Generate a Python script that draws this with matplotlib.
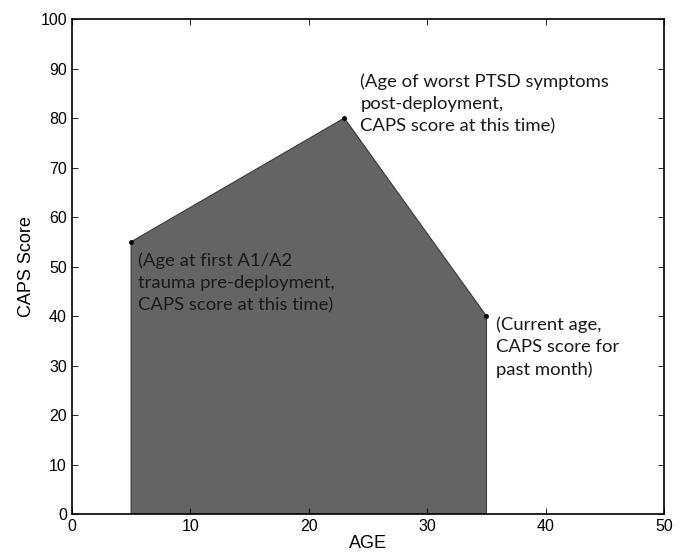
import numpy as np
import matplotlib.pyplot as plt

# ---------------------------------------------------------------------------
# Data
# ---------------------------------------------------------------------------
age = [5, 5, 23, 35, 35]          # polygon outline (x)
caps = [0, 55, 80, 40, 0]         # polygon outline (y)

pt_age = [5, 23, 35]              # marked points
pt_caps = [55, 80, 40]

labels = [
    "(Age at first A1/A2\ntrauma pre-deployment,\nCAPS score at this time)",
    "(Age of worst PTSD symptoms\npost-deployment,\nCAPS score at this time)",
    "(Current age,\nCAPS score for\npast month)",
]
offsets = [(7, -41), (16, 14), (10, -31)]   # pixels, point -> text centre

xticks = np.arange(0, 51, 10)
yticks = np.arange(0, 101, 10)

# ---------------------------------------------------------------------------
# Plot
# ---------------------------------------------------------------------------
plt.rcParams["font.family"] = ["Liberation Sans", "DejaVu Sans"]

fig = plt.figure(figsize=(6.84, 5.6), dpi=100)
ax = fig.add_axes([0.105, 0.082, 0.866, 0.884])

ax.fill(age, caps, facecolor="#646464", edgecolor="#3a3a3a", linewidth=0.8)
ax.plot(pt_age, pt_caps, "o", color="black", markersize=2.5)

for x, y, s, off in zip(pt_age, pt_caps, labels, offsets):
    ax.annotate(s, (x, y), xytext=off, textcoords="offset pixels",
                ha="left", va="center", fontsize=13.3, family="Lato",
                color="#1a1a1a", linespacing=1.48)

ax.set_xlim(0, 50)
ax.set_ylim(0, 100)
ax.set_xticks(xticks)
ax.set_yticks(yticks)
ax.tick_params(direction="in", top=True, right=True, labelsize=11.5,
               length=4, width=0.6)
for sp in ax.spines.values():
    sp.set_linewidth(1.2)

ax.set_xlabel("AGE", fontsize=13, labelpad=1)
ax.set_ylabel("CAPS Score", fontsize=13, labelpad=4)

plt.savefig("out.png", dpi=100)
